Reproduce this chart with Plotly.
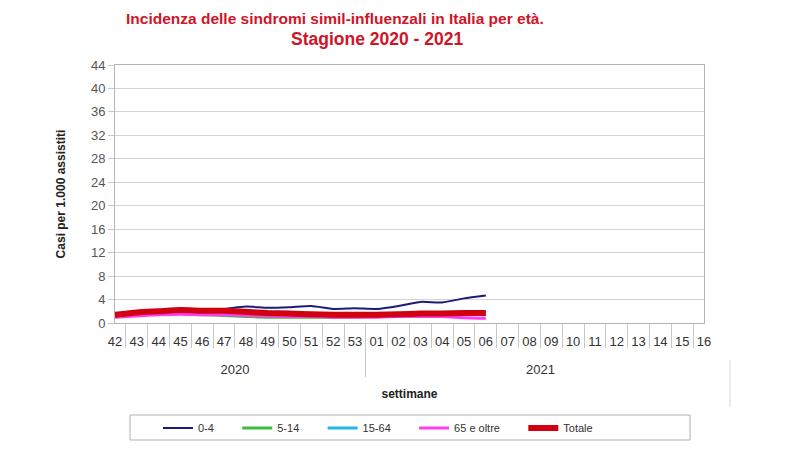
import plotly.graph_objects as go

weeks_2020 = ["42", "43", "44", "45", "46", "47", "48", "49", "50", "51", "52", "53"]
weeks_2021 = ["01", "02", "03", "04", "05", "06", "07", "08", "09", "10", "11", "12", "13", "14", "15", "16"]
year_labels = ["2020", "2021"]
years = ["<br>" + year_labels[0]] * len(weeks_2020) + ["<br>" + year_labels[1]] * len(weeks_2021)
weeks = weeks_2020 + weeks_2021

# values for weeks 42..06 (18 weeks), rest of the season not yet observed
s_0_4 = [1.5, 1.8, 2.1, 2.3, 2.2, 2.4, 2.8, 2.6, 2.7, 2.9, 2.4, 2.5, 2.4, 2.9, 3.6, 3.5, 4.2, 4.7]
s_5_14 = [1.2, 1.5, 1.6, 1.6, 1.4, 1.3, 1.1, 1.0, 1.0, 1.0, 1.0, 1.0, 1.1, 1.2, 1.3, 1.5, 1.9, 1.9]
s_15_64 = [1.3, 1.6, 1.9, 2.0, 2.0, 1.9, 1.7, 1.6, 1.5, 1.4, 1.3, 1.3, 1.3, 1.3, 1.4, 1.4, 1.5, 1.5]
s_65 = [1.0, 1.2, 1.4, 1.5, 1.4, 1.4, 1.3, 1.2, 1.1, 1.1, 1.0, 1.0, 1.0, 1.1, 1.1, 1.1, 0.9, 0.8]
s_tot = [1.4, 1.8, 2.0, 2.2, 2.1, 2.1, 1.9, 1.7, 1.6, 1.5, 1.4, 1.4, 1.4, 1.5, 1.6, 1.6, 1.7, 1.7]

series_names = ["0-4", "5-14", "15-64", "65 e oltre", "Totale"]
series_values = [s_0_4, s_5_14, s_15_64, s_65, s_tot]
series_colors = ["#1c1c78", "#3cbf3c", "#22b8e8", "#ff3cf0", "#d00010"]
series_widths = [2, 3, 3, 3, 6]

PAD = "\u00a0" * 6  # spacing after each legend label

n = len(weeks)
fig = go.Figure()
for i, (name, vals, color, w) in enumerate(zip(series_names, series_values, series_colors, series_widths)):
    y = vals + [None] * (n - len(vals))
    label = name + (PAD if i < len(series_names) - 1 else "")
    fig.add_trace(go.Scatter(
        x=[years, weeks], y=y, name=label, mode="lines",
        line=dict(color=color, width=w, shape="spline", smoothing=0.6),
    ))

T, B = 65, 127
H = 450 - T - B
L, R = 115, 96
W = 800 - L - R

fig.update_layout(
    width=800, height=450,
    margin=dict(l=L, r=R, t=T, b=B, autoexpand=False),
    paper_bgcolor="white", plot_bgcolor="white",
    font=dict(family="Liberation Sans, Arial, sans-serif", color="#333333"),
    showlegend=True,
    legend=dict(
        orientation="h", x=(158 - L) / W, xanchor="left",
        y=(323 - 428) / H, yanchor="middle",
        font=dict(size=11, color="#333333"),
        bgcolor="rgba(0,0,0,0)", itemclick=False,
    ),
    annotations=[
        dict(text="<b>Incidenza delle sindromi simil-influenzali in Italia per età.</b>",
             xref="paper", yref="paper", x=(335 - L) / W, y=1 + (T - 18) / H,
             xanchor="center", yanchor="middle", showarrow=False,
             font=dict(size=15.5, color="#d01428")),
        dict(text="<b>Stagione 2020 - 2021</b>",
             xref="paper", yref="paper", x=(377 - L) / W, y=1 + (T - 39) / H,
             xanchor="center", yanchor="middle", showarrow=False,
             font=dict(size=17.5, color="#d01428")),
    ],
    shapes=[
        dict(type="rect", xref="paper", yref="paper",
             x0=(130 - L) / W, x1=(690 - L) / W,
             y0=(323 - 440) / H, y1=(323 - 415) / H,
             line=dict(color="#b0b0b0", width=1)),
        dict(type="line", xref="paper", yref="paper",
             x0=(730 - L) / W, x1=(730 - L) / W,
             y0=(323 - 360) / H, y1=(323 - 407) / H,
             line=dict(color="#d8d8d8", width=1)),
    ],
)

fig.update_xaxes(
    type="multicategory",
    showgrid=False, tickangle=0,
    tickson="boundaries", ticks="outside", ticklen=24, tickcolor="#c8c8c8",
    ticklabelstandoff=6,
    showdividers=True, dividercolor="#c8c8c8", dividerwidth=1,
    tickfont=dict(size=13, color="#333333"),
    showline=True, linecolor="#b4b4b4", linewidth=1, mirror=True,
    title=dict(text="<b>settimane</b>", font=dict(size=12, color="#222222"), standoff=14),
)
fig.update_yaxes(
    range=[0, 44], tickvals=list(range(0, 45, 4)),
    showgrid=True, gridcolor="#d4d4d4", gridwidth=1,
    ticks="outside", ticklen=6, tickcolor="#c8c8c8",
    tickfont=dict(size=13, color="#555555"),
    showline=True, linecolor="#b4b4b4", linewidth=1, mirror=True,
    zeroline=False,
    title=dict(text="<b>Casi per 1.000 assistiti</b>", font=dict(size=12, color="#222222"), standoff=22),
)

fig.write_html("out.html")
